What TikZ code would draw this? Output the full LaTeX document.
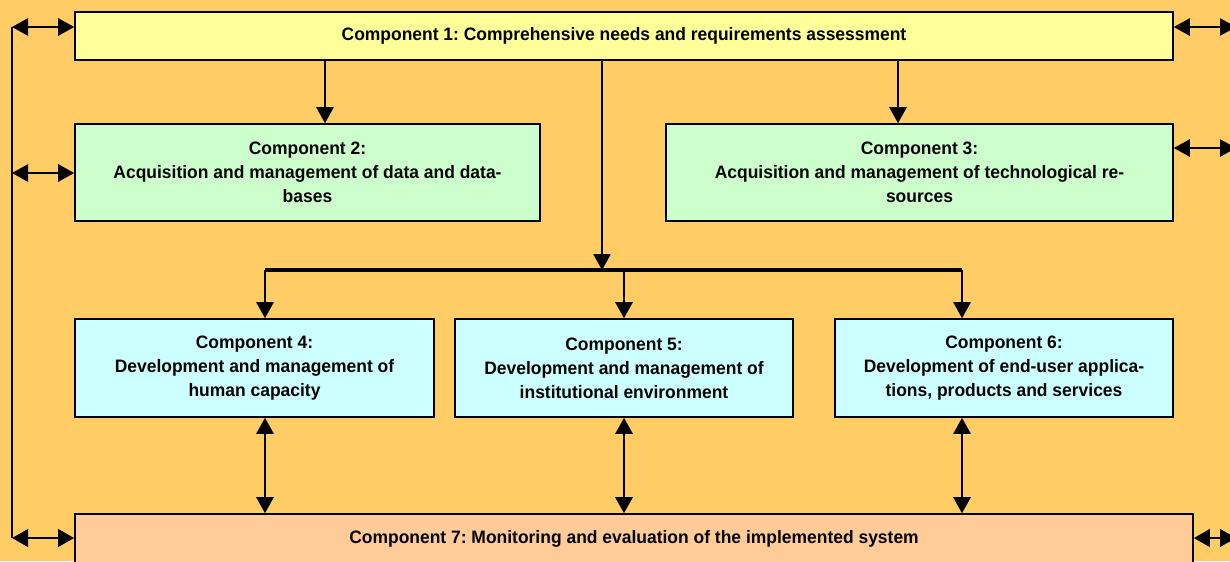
\documentclass[tikz,border=0pt]{standalone}
\usepackage{fontspec}
\setmainfont{Liberation Sans}[FakeStretch=0.97]
\frenchspacing
\usetikzlibrary{arrows.meta}
\definecolor{bgcol}{HTML}{FFCC66}
\definecolor{yellowbox}{HTML}{FFFF99}
\definecolor{greenbox}{HTML}{CCFFCC}
\definecolor{cyanbox}{HTML}{CCFFFF}
\definecolor{peachbox}{HTML}{FFCC99}
\begin{document}
\begin{tikzpicture}[x=0.75pt,y=-0.75pt,
    comp/.style={draw,line width=1.2pt,align=center,inner sep=0pt,
      font=\bfseries\fontsize{13.5}{18}\selectfont},
    link/.style={line width=1.2pt,-{Triangle[length=12pt,width=13pt]}},
    both/.style={line width=1.2pt,{Triangle[length=12pt,width=13pt]}-{Triangle[length=12pt,width=13pt]}}]
              \fill[bgcol](0,0)rectangle(1230,561);
              \useasboundingbox(0,0)rectangle(1230,561);
              % components
              \node[comp,fill=yellowbox,minimum width=823.5pt,minimum height=36pt](c1)at(624,36)
                {Component 1: Comprehensive needs and requirements assessment};
              \node[comp,fill=greenbox,minimum width=348.75pt,minimum height=72.75pt](c2)at(307.5,172.5)
                {Component 2:\\Acquisition and management of data and data-\\bases};
              \node[comp,fill=greenbox,minimum width=380.25pt,minimum height=72.75pt](c3)at(919.5,172.5)
                {Component 3:\\Acquisition and management of technological re-\\sources};
              \node[comp,fill=cyanbox,minimum width=269.25pt,minimum height=73.5pt](c4)at(254.5,368)
                {Component 4:\\Development and management of\\human capacity};
              \node[comp,fill=cyanbox,minimum width=253.5pt,minimum height=73.5pt](c5)at(624,368)
                {Component 5:\\Development and management of\\institutional environment};
              \node[comp,fill=cyanbox,minimum width=253.5pt,minimum height=73.5pt](c6)at(1004,368)
                {Component 6:\\Development of end-user applica-\\tions, products and services};
              \node[comp,fill=peachbox,minimum width=838.5pt,minimum height=37.5pt](c7)at(634,539)
                {Component 7: Monitoring and evaluation of the implemented system};
              % bar below component 1
              \coordinate(s)at(602,270);
              \coordinate(b4)at(265,270);
              \coordinate(b5)at(624,270);
              \coordinate(b6)at(962,270);
              \draw[line width=3pt](b4)--(b6);
              \draw[link](c1.south-|s)--(s);
              \draw[link](c1.south-|325,0)--(c2.north-|325,0);
              \draw[link](c1.south-|898,0)--(c3.north-|898,0);
              \draw[link](b4)--(c4.north-|b4);
              \draw[link](b5)--(c5.north);
              \draw[link](b6)--(c6.north-|b6);
              \draw[both](c4.south-|b4)--(c7.north-|b4);
              \draw[both](c5.south)--(c7.north-|b5);
              \draw[both](c6.south-|b6)--(c7.north-|b6);
              % left feedback line
              \coordinate(l1)at(12,27);
              \coordinate(l2)at(12,173);
              \coordinate(l7)at(12,538);
              \draw[line width=1.8pt](l1)--(l7);
              \draw[both](l1)--(c1.west|-l1);
              \draw[both](l2)--(c2.west|-l2);
              \draw[both,line width=2.2pt](l7)--(c7.west|-l7);
              % right side
              \coordinate(r1)at(1236,27);
              \coordinate(r3)at(1236,148);
              \coordinate(r7)at(1236,538);
              \draw[both](c1.east|-r1)--(r1);
              \draw[both](c3.east|-r3)--(r3);
              \draw[both,line width=2.2pt](c7.east|-r7)--(r7);
            \end{tikzpicture}
\end{document}
